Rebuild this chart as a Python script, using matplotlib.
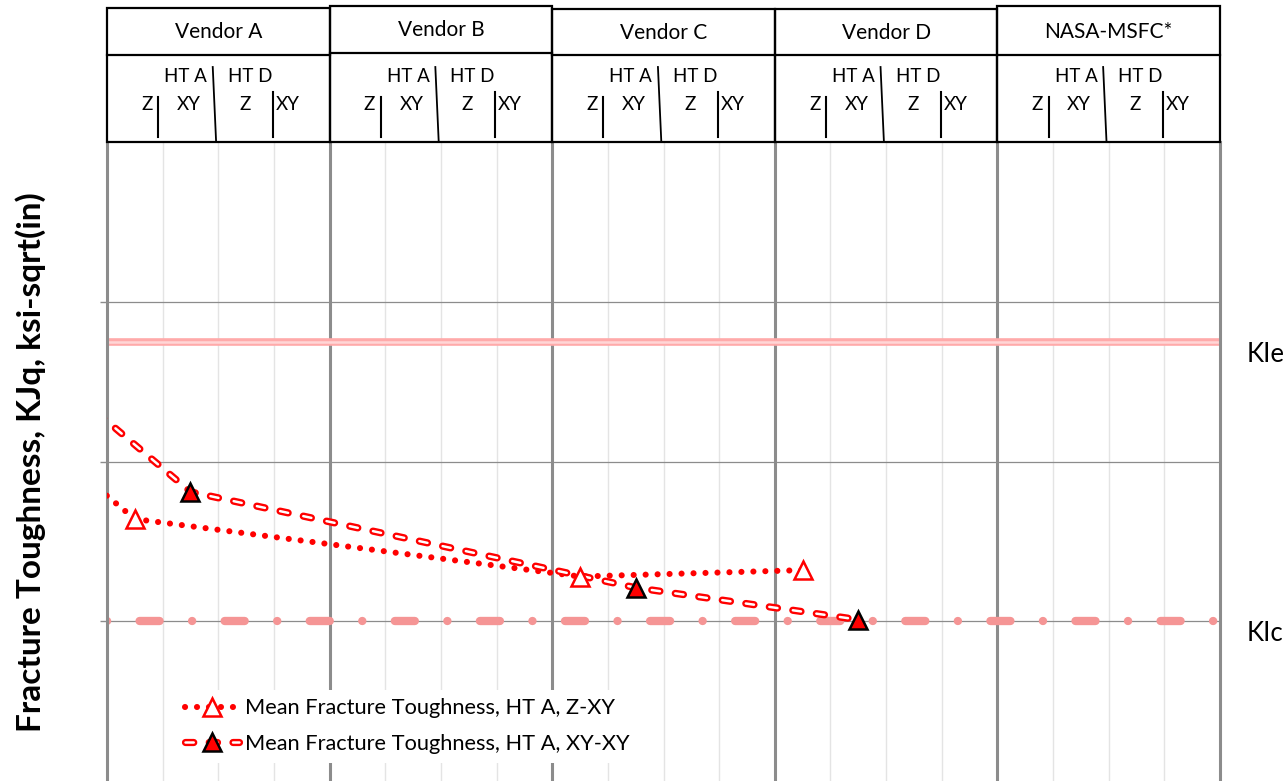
import matplotlib
matplotlib.use("Agg")
import matplotlib.pyplot as plt
import matplotlib.patheffects as pe
from matplotlib.patches import Rectangle
from matplotlib import transforms

plt.rcParams['font.family'] = ['Lato', 'DejaVu Sans']

vendors = ["Vendor A", "Vendor B", "Vendor C", "Vendor D", "NASA-MSFC*"]
heat_treats = ["HT A", "HT D"]
orients = ["Z", "XY"]

# 4 slots per vendor: HT A Z, HT A XY, HT D Z, HT D XY (slot -1 is off the chart)
z_xy_slot = [-1, 0, 8, 12]
z_xy_mean = [1.93, 1.64, 1.28, 1.32]
xy_xy_slot = [-1, 1, 9, 13]
xy_xy_mean = [2.40, 1.81, 1.21, 1.01]

kie = 2.75
kic = 1.0

W, H = 1285, 781
fig = plt.figure(figsize=(W / 100, H / 100), dpi=100)
x_left, x_right = 107 / W, 1220 / W
head_px = 142
ax = fig.add_axes([x_left, 0, x_right - x_left, (H - head_px) / H])
hd = fig.add_axes([x_left, (H - head_px) / H, x_right - x_left, head_px / H])

n_slots = 4 * len(vendors)

# ---- header table (y in pixels from the top)
hd.set_xlim(0, n_slots)
hd.set_ylim(head_px, 0)
hd.axis('off')
box_top = [8, 6, 9, 9, 6]
row_bot = [55, 53, 55, 55, 55]
for i, v in enumerate(vendors):
    x0 = 4 * i
    hd.add_patch(Rectangle((x0, box_top[i]), 4, head_px - box_top[i] - 0.5, fill=False,
                           ec='black', lw=1.6, clip_on=False))
    hd.plot([x0, x0 + 4], [row_bot[i]] * 2, color='black', lw=1.6, clip_on=False)
    hd.text(x0 + 2, (box_top[i] + row_bot[i]) / 2 + 1, v, ha='center', va='center', fontsize=15)
    hd.text(x0 + 1.8, 77, heat_treats[0], ha='right', va='center', fontsize=13.5)
    hd.text(x0 + 2.17, 77, heat_treats[1], ha='left', va='center', fontsize=13.5)
    hd.plot([x0 + 1.9, x0 + 1.96], [67, 141], color='black', lw=1.3, clip_on=False)
    hd.text(x0 + 0.72, 104, orients[0], ha='center', va='center', fontsize=13.5)
    hd.plot([x0 + 0.92] * 2, [97, 137], color='black', lw=1.5, clip_on=False)
    hd.text(x0 + 1.47, 104, orients[1], ha='center', va='center', fontsize=13.5)
    hd.text(x0 + 2.48, 104, orients[0], ha='center', va='center', fontsize=13.5)
    hd.plot([x0 + 2.98] * 2, [92, 137], color='black', lw=1.5, clip_on=False)
    hd.text(x0 + 3.03, 104, orients[1], ha='left', va='center', fontsize=13.5)

# ---- main plot
ax.set_xlim(0, n_slots)
ax.set_ylim(0, 4)
for x in range(1, n_slots):
    if x % 4:
        ax.axvline(x, color='#e4e4e4', lw=1, zorder=0)
    else:
        ax.axvline(x, color='#8c8c8c', lw=2.2, zorder=0)
for y in [1, 2, 3]:
    ax.axhline(y, color='#8c8c8c', lw=0.9, zorder=0)
for s in ['top', 'bottom']:
    ax.spines[s].set_visible(False)
for s in ['left', 'right']:
    ax.spines[s].set_color('#8c8c8c')
    ax.spines[s].set_linewidth(2.2)
ax.set_xticks([])
ax.set_yticks([1, 2, 3])
ax.set_yticklabels([])
ax.tick_params(axis='y', length=5, color='#8c8c8c', width=1)

# limit lines
ax.axhline(kie, color='#ffaaaa', lw=5.5, zorder=1)
ax.axhline(kie, color='#ffd6d6', lw=1.8, zorder=1)
ax.axhline(kic, color='#f59595', lw=6, ls=(0, (0.01, 3.9, 2.4, 3.9)),
           dash_capstyle='round', zorder=1)
tr = transforms.blended_transform_factory(ax.transAxes, ax.transData)
ax.text(1.0243, kie, "KIe", transform=tr, ha='left', va='top', fontsize=18.5)
ax.text(1.0243, kic, "KIc", transform=tr, ha='left', va='top', fontsize=18.5)

# series
xa = [s + 0.5 for s in z_xy_slot]
xb = [s + 0.5 for s in xy_xy_slot]
l_dot, = ax.plot(xa, z_xy_mean, color='red', lw=4.4, ls=(0, (0.01, 1.95)),
                 dash_capstyle='round', zorder=4)
m_open, = ax.plot(xa, z_xy_mean, ls='none', marker='^', ms=12.5, mfc='white',
                  mec='red', mew=1.8, zorder=5)
l_dash, = ax.plot(xb, xy_xy_mean, color='white', lw=1.8, ls=(0, (3.3, 6.2)),
                  dash_capstyle='round', zorder=4,
                  path_effects=[pe.Stroke(linewidth=5.2, foreground='red'), pe.Normal()])
m_fill, = ax.plot(xb, xy_xy_mean, ls='none', marker='^', ms=12.5, mfc='red',
                  mec='black', mew=1.8, zorder=5)

ax.legend([(l_dot, m_open), (l_dash, m_fill)],
          ["Mean Fracture Toughness, HT A, Z-XY", "Mean Fracture Toughness, HT A, XY-XY"],
          loc='upper left', bbox_to_anchor=(0.062, 0.143), borderaxespad=0,
          fontsize=15.7, handlelength=2.5, handletextpad=0.25, labelspacing=0.72,
          frameon=True, facecolor='white', edgecolor='none', framealpha=1, fancybox=False)

fig.text(31 / W, 1 - 462 / H, "Fracture Toughness, KJq, ksi-sqrt(in)", rotation=90,
         fontsize=24, fontweight='bold', ha='center', va='center')

fig.savefig("out.png", dpi=100)
